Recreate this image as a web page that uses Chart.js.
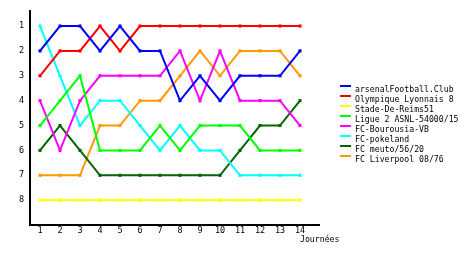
<!DOCTYPE html>
<html>
<head>
<meta charset="utf-8">
<script src="https://cdn.jsdelivr.net/npm/chart.js@4/dist/chart.umd.min.js"></script>
<style>
html,body{margin:0;padding:0;background:#fff;}
#wrap{width:460px;height:255px;}
</style>
</head>
<body>
<div id="wrap"><canvas id="c" width="460" height="255"></canvas></div>
<script>
const journees = [1,2,3,4,5,6,7,8,9,10,11,12,13,14];
const rankTicks = [1,2,3,4,5,6,7,8];
const teams = ["arsenalFootball.Club","Olympique Lyonnais 8","Stade-De-Reims51","Ligue 2 ASNL-54000/15","FC-Bourousia-VB","FC-pokeland","FC meuto/56/20","FC Liverpool 08/76"];
const colors = ["#0000ff","#ff0000","#ffff00","#00ff00","#ff00ff","#00ffff","#006600","#ff9900"];
const arsenal   = [2,1,1,2,1,2,2,4,3,4,3,3,3,2];
const lyon      = [3,2,2,1,2,1,1,1,1,1,1,1,1,1];
const reims     = [8,8,8,8,8,8,8,8,8,8,8,8,8,8];
const asnl      = [5,4,3,6,6,6,5,6,5,5,5,6,6,6];
const bourousia = [4,6,4,3,3,3,3,2,4,2,4,4,4,5];
const pokeland  = [1,3,5,4,4,5,6,5,6,6,7,7,7,7];
const meuto     = [6,5,6,7,7,7,7,7,7,7,6,5,5,4];
const liverpool = [7,7,7,5,5,4,4,3,2,3,2,2,2,3];
const series = [arsenal,lyon,reims,asnl,bourousia,pokeland,meuto,liverpool];
const xTitle = "Journées";
const FONT = "DejaVu Sans Mono";

const datasets = series.map((s,i)=>({
  label: teams[i],
  data: s.map((v,j)=>({x:journees[j], y:v})),
  borderColor: colors[i],
  backgroundColor: colors[i],
  pointBackgroundColor: colors[i],
  pointBorderWidth: 0,
  pointStyle: 'rect',
  pointRadius: 2.2,
  borderWidth: 2,
  tension: 0,
  fill: false
}));

const decorPlugin = {
  id: 'decor',
  afterDraw(chart){
    const ctx = chart.ctx;
    const a = chart.chartArea;
    ctx.save();
    ctx.fillStyle = '#000';
    ctx.beginPath();
    ctx.fillRect(29, 10, 2, 216);
    ctx.fillRect(29, 224, 291, 2);
    ctx.font = "8.2px '" + FONT + "'";
    ctx.textBaseline = 'alphabetic';
    ctx.textAlign = 'left';
    teams.forEach((t,i)=>{
      const y = 86 + 10*i;
      ctx.fillStyle = colors[i];
      ctx.fillRect(340, y-1, 11, 2);
      ctx.fillStyle = '#000';
      ctx.fillText(t, 355, y+6);
    });
    ctx.fillText(xTitle, 300, 242);
    ctx.restore();
  }
};

new Chart(document.getElementById('c'), {
  type: 'line',
  data: { datasets },
  plugins: [decorPlugin],
  options: {
    responsive: false,
    animation: false,
    events: [],
    layout: { padding: { left: 0, top: 10, right: 140, bottom: 0 } },
    plugins: { legend: { display: false }, tooltip: { enabled: false }, title: { display: false } },
    scales: {
      x: {
        type: 'linear',
        min: 0.5, max: 15,
        grid: { display: false, drawTicks: false },
        border: { display: false },
        ticks: { color: '#000', font: { family: FONT, size: 8.5 }, padding: 1, maxRotation: 0, autoSkip: false },
        afterBuildTicks: s => { s.ticks = journees.map(v=>({value:v})); },
        afterFit: s => { s.height = 30; }
      },
      y: {
        type: 'linear',
        reverse: true,
        min: 0.4, max: 9,
        grid: { display: false, drawTicks: false },
        border: { display: false },
        ticks: { color: '#000', font: { family: FONT, size: 8.5 }, padding: 6, autoSkip: false },
        afterBuildTicks: s => { s.ticks = rankTicks.map(v=>({value:v})); },
        afterFit: s => { s.width = 30; }
      }
    }
  }
});
</script>
</body>
</html>
